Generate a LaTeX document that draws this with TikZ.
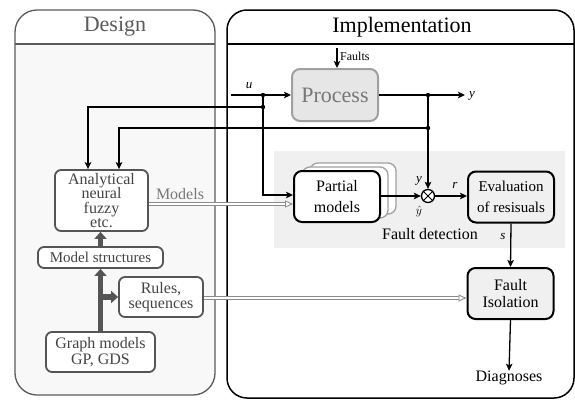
\documentclass[tikz,border=0pt]{standalone}
\usepackage{fontspec}
\setmainfont{Liberation Serif}
\usetikzlibrary{arrows.meta,calc}
\definecolor{paneledge}{HTML}{5A5A5A}
\definecolor{panelbody}{HTML}{F8F8F8}
\definecolor{boxedge}{HTML}{555555}
\definecolor{boxtext}{HTML}{444444}
\definecolor{procfill}{HTML}{E6E6E6}
\definecolor{procedge}{HTML}{A0A0A0}
\definecolor{proctext}{HTML}{777777}
\definecolor{detectfill}{HTML}{F0F0F0}
\definecolor{dblgray}{HTML}{8C8C8C}
\newcommand\fsz[2]{\fontsize{#1}{#2}\selectfont}
\begin{document}
\begin{tikzpicture}[x=1pt,y=-1pt,
  designbox/.style={draw=boxedge, line width=1.8pt, fill=white, rounded corners=6pt,
    align=center, inner sep=0pt, text=boxtext},
  implbox/.style={draw=black, line width=2pt, fill=detectfill, rounded corners=8pt,
    align=center, inner sep=0pt, minimum width=86pt, minimum height=51pt},
  backbox/.style={draw=procedge, line width=1.3pt, fill=white, rounded corners=8pt,
    inner sep=0pt, minimum width=86pt, minimum height=51pt},
  sig/.style={draw=black, line width=1.3pt, -{Stealth[length=7pt,width=6.5pt,inset=1.5pt]}},
  thickarr/.style={draw=boxedge, line width=5.5pt, -{Triangle[length=7pt,width=12pt]}},
  dblarr/.style={draw=dblgray, line width=0.9pt, double=white, double distance=2.2pt,
    -{Triangle[open,fill=white,length=8pt,width=7pt]}},
  lbl/.style={inner sep=0pt, font=\fsz{13}{15}\itshape},
]
\useasboundingbox (0,0) rectangle (575,399);

% Design panel
\begin{scope}
  \clip[rounded corners=22pt] (15,10) rectangle (215,395);
  \fill[white] (15,10) rectangle (215,44);
  \fill[panelbody] (15,44) rectangle (215,395);
\end{scope}
\draw[paneledge, line width=1.3pt, rounded corners=22pt] (15,10) rectangle (215,395);
\draw[paneledge, line width=1.3pt] (15,44) -- (215,44);
\node[text=paneledge, font=\fsz{22}{24}, inner sep=0pt] (design) at (115,27) {Design};

% Implementation panel
\draw[black, line width=1.5pt, rounded corners=20pt] (227,10) rectangle (574,398);
\draw[black, line width=1.3pt] (227,44) -- (574,44);
\node[font=\fsz{22}{24}, inner sep=0pt] (impl) at (402,27) {Implementation};

% Fault detection area
\fill[detectfill] (274,151) rectangle (565,248);
\node[font=\fsz{16}{18}, inner sep=0pt] (fdlbl) at (430,234) {Fault detection};

% Process
\node[draw=procedge, line width=2pt, fill=procfill, rounded corners=8pt, text=proctext,
  font=\fsz{22}{24}, inner sep=0pt, minimum width=86pt, minimum height=52pt] (proc) at (335,95) {Process};
\coordinate (ftop) at (337,48);
\draw[sig] (ftop) -- (ftop |- proc.north);
\node[anchor=west, font=\fsz{12}{14}, inner sep=0pt] (faults) at (340,56) {Faults};

% Partial models stack
\node[backbox] (pmb2) at (353,188.5) {};
\node[backbox] (pmb1) at (345,192.5) {};
\node[implbox, fill=white, font=\fsz{16}{20.5}] (pm) at (337,196.5) {Partial\\models};

% Residual generation and evaluation
\node[circle, draw=black, line width=1.3pt, fill=white, minimum size=13pt, inner sep=0pt] (sum) at (428,196) {};
\draw[line width=1pt] (sum.north east) -- (sum.south west) (sum.north west) -- (sum.south east);
\node[implbox, font=\fsz{15}{21}] (ev) at (511,197) {Evaluation\\of resisuals};
\node[implbox, font=\fsz{16}{17.5}] (fi) at (510.5,293.5) {Fault\\Isolation};
\node[font=\fsz{16}{18}, inner sep=0pt] (diag) at (509,378) {Diagnoses};

% Design boxes
\node[designbox, font=\fsz{16}{14.6}, minimum width=93pt, minimum height=61pt] (an) at (101.5,200.5) {Analytical\\neural\\fuzzy\\etc.};
\node[designbox, font=\fsz{15}{17}, minimum width=125pt, minimum height=21pt] (ms) at (100.5,257.5) {Model structures};
\node[designbox, font=\fsz{16}{15}, minimum width=84pt, minimum height=40pt] (rs) at (161,297) {Rules,\\sequences};
\node[designbox, font=\fsz{16}{16.5}, minimum width=109pt, minimum height=40pt] (gm) at (100.5,352) {Graph models\\GP, GDS};

% Structure flow in the design stage
\draw[thickarr] (gm.north) -- (ms.south);
\draw[thickarr] (ms.north) -- (ms.north |- an.south);
\draw[thickarr] (rs.west -| gm.north) -- (rs.west);

% Model and rule transfer
\draw[dblarr] ($(an.east)+(0,3.5)$) coordinate (mstart) -- (mstart -| pm.west);
\node[text=proctext, font=\fsz{16}{18}, inner sep=0pt] (models) at (180,194) {Models};
\draw[dblarr] ($(rs.east)+(0,1)$) coordinate (rstart) -- (rstart -| fi.west);

% Signal paths
\coordinate (uin) at (231,95);
\coordinate (u1) at (263,95);
\coordinate (u2) at (263,107);
\coordinate (y1) at (428,95);
\coordinate (y2) at (428,128);
\coordinate (yout) at (465,95);
\draw[sig] (uin) -- (proc.west |- uin);
\draw[sig] (proc.east |- yout) -- (yout);
\draw[sig] (u1) |- ($(pm.west)+(0,-1.5)$);
\draw[sig] (u2) -| ($(an.north)+(-13.5,0)$);
\draw[sig] (y2) -| ($(an.north)+(17.5,0)$);
\draw[sig] (y1) -- (sum.north);
\draw[sig] (pm.east |- sum) -- (sum.west);
\draw[sig] (sum.east) -- (sum -| ev.west);
\draw[sig] (ev.south) -- (fi.north);
\draw[sig] (fi.south) -- (diag.north);
\foreach \p in {u1,u2,y1,y2} \fill (\p) circle (2.2pt);

% Signal labels
\node[lbl] (ulbl) at (249,86) {u};
\node[lbl, anchor=west] (ylbl) at (469,96) {y};
\node[lbl] (ylbl2) at (419,181) {y};
\node[lbl] (yhat) at (419,211) {$\hat{y}$};
\node[lbl] (rlbl) at (455,185) {r};
\node[lbl] (slbl) at (503,236) {s};
\end{tikzpicture}
\end{document}
